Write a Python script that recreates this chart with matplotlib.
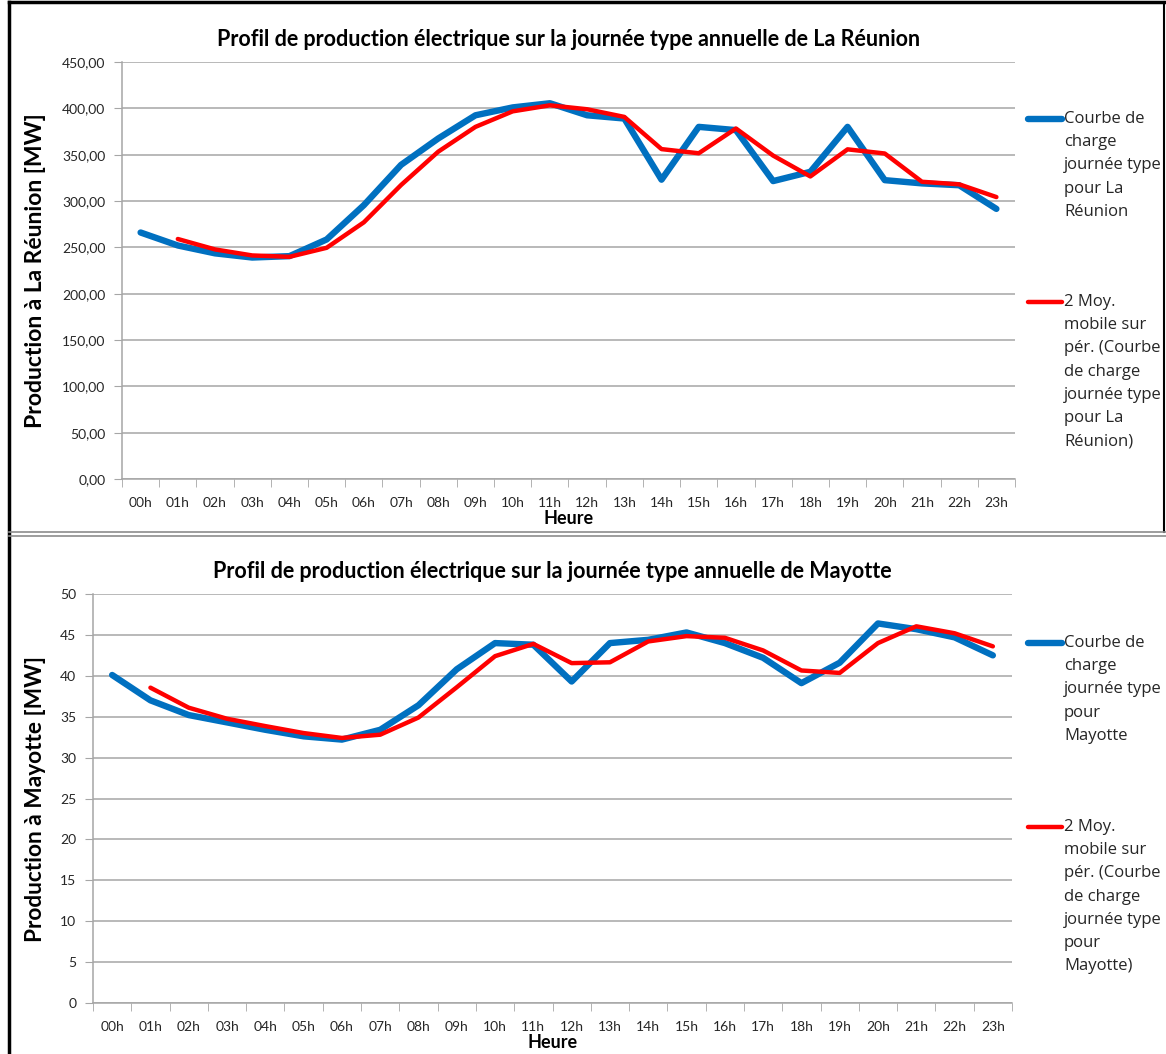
import matplotlib.pyplot as plt
from matplotlib.lines import Line2D
import numpy as np
import pandas as pd

# hourly categories
hours = ["%02dh" % h for h in range(24)]

# typical day load curve, La Reunion [MW]
reunion = [266, 252, 243.5, 239, 240.5, 258.5, 295.5, 339, 367.5, 392.5, 401, 405.5,
           392.5, 389, 323, 380, 376.5, 321.5, 331.5, 380, 322.5, 319, 317, 291.5]
# typical day load curve, Mayotte [MW]
mayotte = [40.1, 37.0, 35.2, 34.3, 33.4, 32.6, 32.2, 33.4, 36.4, 40.8, 44.0, 43.8,
           39.3, 44.0, 44.4, 45.3, 44.0, 42.2, 39.1, 41.6, 46.4, 45.7, 44.7, 42.5]

titles = ["Profil de production électrique sur la journée type annuelle de La Réunion",
          "Profil de production électrique sur la journée type annuelle de Mayotte"]
ylabels = ["Production à La Réunion [MW]", "Production à Mayotte [MW]"]
legend_labels = [
    ["Courbe de\ncharge\njournée type\npour La\nRéunion",
     "2 Moy.\nmobile sur\npér. (Courbe\nde charge\njournée type\npour La\nRéunion)"],
    ["Courbe de\ncharge\njournée type\npour\nMayotte",
     "2 Moy.\nmobile sur\npér. (Courbe\nde charge\njournée type\npour\nMayotte)"],
]

W, H = 1166, 1054
fig = plt.figure(figsize=(W / 100, H / 100), dpi=100)


def fx(px):
    return px / W


def fy(py):
    return 1 - py / H


blue = "#0070C0"
red = "#FF0000"
txt = "#262626"
grid = "#A6A6A6"

# (left, right, top, bottom) of plot area in pixels
boxes = [(122, 1015, 62, 479), (93, 1012, 594, 1003)]
ylims = [(0, 450, 50), (0, 50, 5)]
fmts = ["{:.2f}", "{:.0f}"]
legend_y = [(119, 302), (643, 827)]
ylab_size = [16.5, 16.3]
datas = [reunion, mayotte]

for i in range(2):
    l, r, t, b = boxes[i]
    ax = fig.add_axes([fx(l), fy(b), fx(r - l), (b - t) / H])
    x = np.arange(24)
    y = pd.Series(datas[i])
    ax.plot(x, y, color=blue, lw=4.6, solid_capstyle="round", solid_joinstyle="round", zorder=3)
    ax.plot(x, y.rolling(2).mean(), color=red, lw=3.2, solid_capstyle="round",
            solid_joinstyle="round", zorder=4)
    lo, hi, step = ylims[i]
    ax.set_ylim(lo, hi)
    ax.set_xlim(-0.5, 23.5)
    yt = np.arange(lo, hi + step / 2, step)
    ax.set_yticks(yt)
    ax.set_yticklabels([fmts[i].format(v).replace(".", ",") for v in yt])
    ax.set_xticks(x)
    ax.set_xticklabels(hours)
    ax.set_xticks(np.arange(-0.5, 24, 1), minor=True)
    ax.tick_params(axis="x", which="major", length=0, pad=13, labelsize=10, labelcolor=txt)
    ax.tick_params(axis="x", which="minor", length=6, color=grid, direction="out")
    ax.tick_params(axis="y", length=6, color=grid, labelsize=10, labelcolor=txt, pad=6)
    for lab in ax.get_xticklabels() + ax.get_yticklabels():
        lab.set_family("Lato")
    ax.grid(axis="y", color=grid, lw=1.1)
    ax.set_axisbelow(True)
    for s in ["top", "right"]:
        ax.spines[s].set_visible(False)
    for s in ["left", "bottom"]:
        ax.spines[s].set_color(grid)
        ax.spines[s].set_linewidth(1.1)

    fig.text(fx((l + r) / 2), fy(t - 23), titles[i], ha="center", va="center",
             fontsize=15.5, fontweight="bold", family="Lato", color="black")
    fig.text(fx((l + r) / 2), fy(b + 40), "Heure", ha="center", va="center",
             fontsize=13, fontweight="bold", family="Lato", color="black")
    fig.text(fx(36), fy((t + b) / 2), ylabels[i], ha="center", va="center", rotation=90,
             fontsize=ylab_size[i], fontweight="bold", family="Lato", color="black")

    # legend, handle aligned with the first text line
    for lab, col, lw, ly in zip(legend_labels[i], [blue, red], [4.6, 3.2], legend_y[i]):
        fig.add_artist(Line2D([fx(1028), fx(1062)], [fy(ly), fy(ly)], color=col, lw=lw,
                              solid_capstyle="round", transform=fig.transFigure))
        fig.text(fx(1064), fy(ly - 8), lab, ha="left", va="top", fontsize=12,
                 family="Open Sans", color=txt, linespacing=1.6)

# chart frames
fig.add_artist(Line2D([fx(9), fx(9)], [fy(2), fy(1054)], color="black", lw=2.5,
                      transform=fig.transFigure))
fig.add_artist(Line2D([fx(9), fx(1164)], [fy(2), fy(2)], color="black", lw=2.5,
                      transform=fig.transFigure))
fig.add_artist(Line2D([fx(1164), fx(1164)], [fy(2), fy(532)], color="black", lw=1.5,
                      transform=fig.transFigure))
fig.add_artist(Line2D([fx(9), fx(1166)], [fy(532), fy(532)], color="#8c8c8c", lw=1.2,
                      transform=fig.transFigure))
fig.add_artist(Line2D([fx(9), fx(1166)], [fy(536), fy(536)], color="#8c8c8c", lw=1.2,
                      transform=fig.transFigure))

fig.savefig("out.png", dpi=100)
